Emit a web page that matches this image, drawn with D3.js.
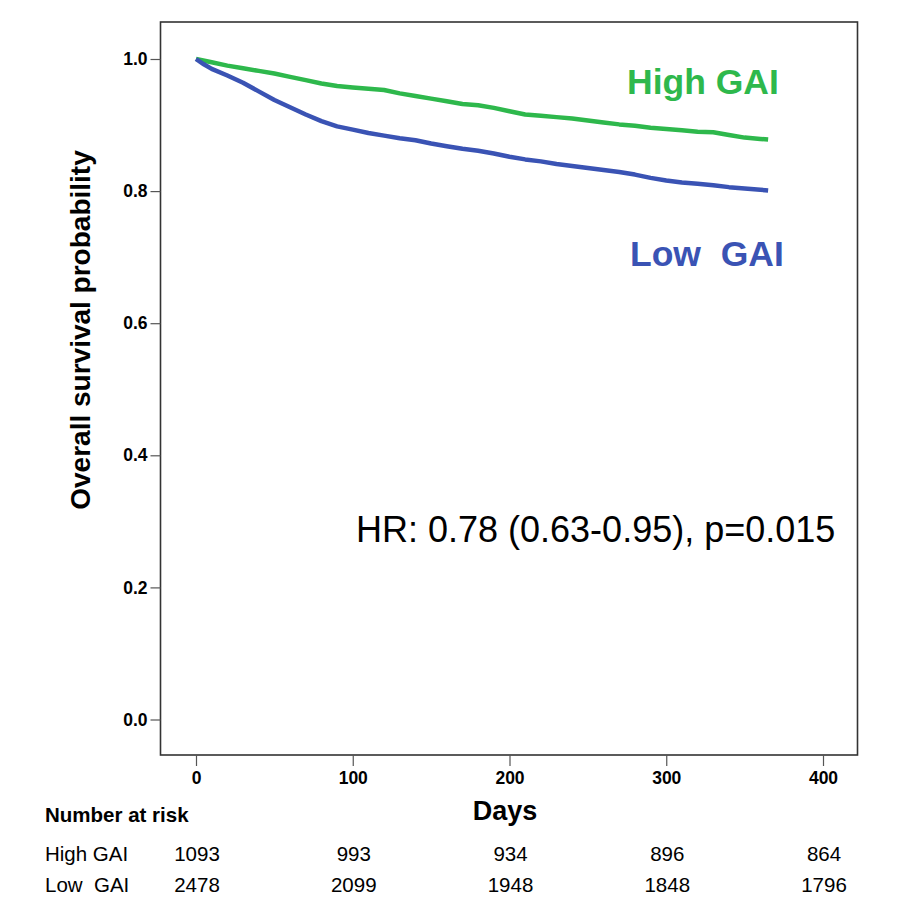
<!DOCTYPE html>
<html><head><meta charset="utf-8">
<script src="https://cdn.jsdelivr.net/npm/d3@7"></script>
<style>body{margin:0;background:#fff}svg{display:block}text{font-family:"Liberation Sans",Arial,sans-serif}</style>
</head><body>
<script>
const highDays = [0,10,20,30,40,50,60,70,80,90,100,110,120,130,140,150,160,170,180,190,200,210,220,230,240,250,260,270,280,290,300,310,320,330,340,350,360,365];
const highSurv = [1.0,0.995,0.990,0.986,0.982,0.978,0.973,0.968,0.963,0.959,0.957,0.955,0.953,0.948,0.944,0.940,0.936,0.932,0.930,0.926,0.921,0.916,0.914,0.912,0.910,0.907,0.904,0.901,0.899,0.896,0.894,0.892,0.890,0.889,0.885,0.881,0.879,0.878];
const lowDays = [0,5,10,20,30,40,50,60,70,80,90,100,110,120,130,140,150,160,170,180,190,200,210,220,230,240,250,260,270,280,290,300,310,320,330,340,350,360,365];
const lowSurv = [1.0,0.992,0.985,0.975,0.964,0.951,0.938,0.927,0.916,0.906,0.898,0.893,0.888,0.884,0.880,0.877,0.872,0.868,0.864,0.861,0.857,0.852,0.848,0.845,0.841,0.838,0.835,0.832,0.829,0.825,0.820,0.816,0.813,0.811,0.809,0.806,0.804,0.802,0.801];
const xTicks = [0,100,200,300,400];
const yTicks = [0.0,0.2,0.4,0.6,0.8,1.0];
const riskGroups = ["High GAI","Low  GAI"];
const riskHigh = [1093,993,934,896,864];
const riskLow = [2478,2099,1948,1848,1796];
const groupLabels = ["High GAI","Low  GAI"];
const hrText = "HR: 0.78 (0.63-0.95), p=0.015";

const W=915,H=922;
const frame={l:160.5,r:857.5,t:22,b:755};
const x=d3.scaleLinear().domain([0,400]).range([196,823]);
const y=d3.scaleLinear().domain([0,1]).range([719.5,59]);
const green="#2eb84c", blue="#3a53b4";

const svg=d3.select("body").append("svg").attr("width",W).attr("height",H);
svg.append("rect").attr("width",W).attr("height",H).attr("fill","#fff");

svg.append("rect").attr("x",frame.l).attr("y",frame.t).attr("width",frame.r-frame.l).attr("height",frame.b-frame.t)
  .attr("fill","none").attr("stroke","#333").attr("stroke-width",1.6);

// y axis
const ya=svg.append("g").attr("transform",`translate(${frame.l},0)`)
  .call(d3.axisLeft(y).tickValues(yTicks).tickFormat(d3.format(".1f")).tickSize(10).tickPadding(3));
ya.select(".domain").remove();
ya.selectAll(".tick line").attr("stroke","#555").attr("stroke-width",1.2);
ya.selectAll(".tick text").attr("font-size",17.5).attr("font-weight","bold").attr("fill","#000").attr("font-family","Liberation Sans, Arial");

// x axis
const xa=svg.append("g").attr("transform",`translate(0,${frame.b})`)
  .call(d3.axisBottom(x).tickValues(xTicks).tickSize(11).tickPadding(6));
xa.select(".domain").remove();
xa.selectAll(".tick line").attr("stroke","#555").attr("stroke-width",1.2);
xa.selectAll(".tick text").attr("font-size",17.5).attr("font-weight","bold").attr("fill","#000").attr("font-family","Liberation Sans, Arial");

// curves
const line=d3.line().x(d=>x(d[0])).y(d=>y(d[1])).curve(d3.curveLinear);
svg.append("path").datum(highDays.map((d,i)=>[d,highSurv[i]])).attr("d",line)
  .attr("fill","none").attr("stroke",green).attr("stroke-width",4.5).attr("stroke-linejoin","round");
svg.append("path").datum(lowDays.map((d,i)=>[d,lowSurv[i]])).attr("d",line)
  .attr("fill","none").attr("stroke",blue).attr("stroke-width",4.5).attr("stroke-linejoin","round");

// labels
svg.append("text").attr("x",627).attr("y",94).attr("font-size",35.5).attr("font-weight","bold").attr("fill",green).style("white-space","pre").text(groupLabels[0]);
svg.append("text").attr("x",630).attr("y",266).attr("font-size",35.5).attr("font-weight","bold").attr("fill",blue).style("white-space","pre").text(groupLabels[1]);
svg.append("text").attr("x",356).attr("y",542).attr("font-size",36).attr("fill","#000").text(hrText);

// axis titles
svg.append("text").attr("transform","translate(90,330) rotate(-90)").attr("text-anchor","middle")
  .attr("font-size",28).attr("font-weight","bold").text("Overall survival probability");
svg.append("text").attr("x",505).attr("y",820).attr("text-anchor","middle").attr("font-size",27).attr("font-weight","bold").text("Days");

// risk table
svg.append("text").attr("x",45).attr("y",822).attr("font-size",20.5).attr("font-weight","bold").text("Number at risk");
[riskHigh,riskLow].forEach((row,ri)=>{
  const yy=[861,892][ri];
  svg.append("text").attr("x",45).attr("y",yy).attr("font-size",20.5).style("white-space","pre").text(riskGroups[ri]);
  row.forEach((v,i)=>{
    svg.append("text").attr("x",x(xTicks[i])+1).attr("y",yy).attr("text-anchor","middle").attr("font-size",20.5).text(v);
  });
});
</script>
</body></html>
